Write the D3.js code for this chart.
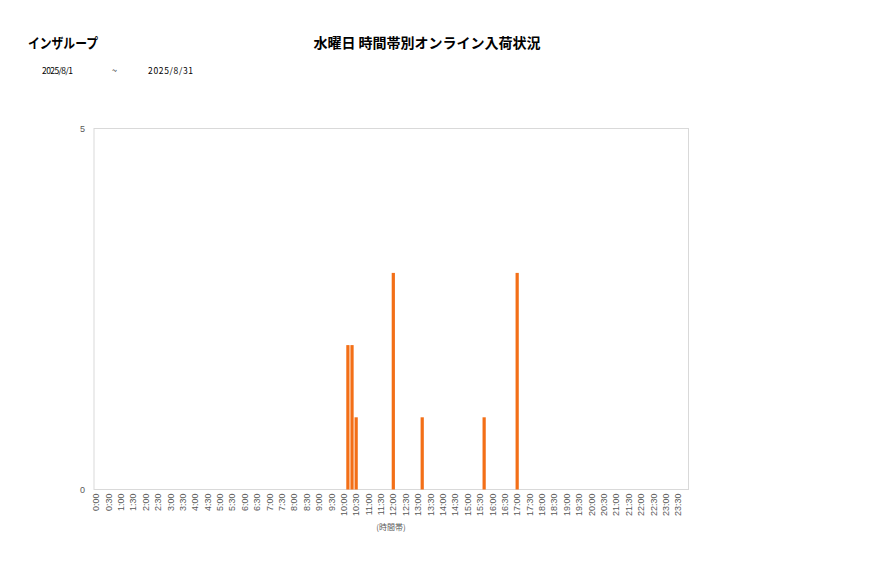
<!DOCTYPE html>
<html>
<head>
<meta charset="utf-8">
<script src="https://cdn.jsdelivr.net/npm/d3@7"></script>
<style>
  body { margin: 0; background: #fff; }
  svg { display: block; font-family: "Noto Sans CJK JP", "Noto Sans", sans-serif; }
  .tick-label { font-size: 9px; fill: #595959; }
</style>
</head>
<body>
<svg id="chart" width="877" height="578"></svg>
<script>
// 10-minute slots for the whole day, labels every 30 minutes
const slots = [];
for (let h = 0; h < 24; h++) {
    for (let m = 0; m < 60; m += 10) slots.push(h + ":" + String(m).padStart(2, "0"));
}
const arrivalSlots = ["10:10", "10:20", "10:30", "12:00", "13:10", "15:40", "17:00"];
const arrivalCounts = [2, 2, 1, 3, 1, 1, 3];
const yTicks = [0, 5];

const shopName = "インザループ";
const chartTitle = "水曜日 時間帯別オンライン入荷状況";
const dateFrom = "2025/8/1";
const dateTo = "2025/8/31";
const xTitle = "(時間帯)";

const values = slots.map(s => {
    const i = arrivalSlots.indexOf(s);
    return i < 0 ? 0 : arrivalCounts[i];
});

const svg = d3.select("#chart");
const plot = { left: 94, top: 128.5, right: 688.5, bottom: 489.5 };

const x = d3.scaleBand()
    .domain(slots)
    .range([plot.left, plot.right])
    .paddingInner(0.22)
    .paddingOuter(0.11);

const y = d3.scaleLinear()
    .domain([0, 5])
    .range([plot.bottom, plot.top]);

// Header texts
svg.append("text")
    .attr("x", 28).attr("y", 48)
    .attr("textLength", 70).attr("lengthAdjust", "spacingAndGlyphs")
    .style("font-size", "14px").style("font-weight", "700")
    .text(shopName);

svg.append("text")
    .attr("x", 427).attr("y", 48)
    .attr("text-anchor", "middle")
    .style("font-size", "14px").style("font-weight", "700")
    .text(chartTitle);

svg.append("text").attr("x", 42).attr("y", 74).style("font-size", "8.5px")
    .attr("textLength", 31).text(dateFrom);
svg.append("text").attr("x", 112).attr("y", 74).style("font-size", "9px").text("~");
svg.append("text").attr("x", 148).attr("y", 74).style("font-size", "8.5px")
    .attr("textLength", 45).text(dateTo);

// Plot frame
svg.append("rect")
    .attr("x", plot.left).attr("y", plot.top)
    .attr("width", plot.right - plot.left)
    .attr("height", plot.bottom - plot.top)
    .attr("fill", "none")
    .attr("stroke", "#d9d9d9");

// Bars
svg.append("g")
    .selectAll("rect")
    .data(slots.map((s, i) => ({ slot: s, value: values[i] })).filter(d => d.value > 0))
    .enter()
    .append("rect")
    .attr("x", d => x(d.slot))
    .attr("y", d => y(d.value))
    .attr("width", x.bandwidth())
    .attr("height", d => y(0) - y(d.value))
    .attr("fill", "#f36f17");

// Y axis labels
const yAxis = svg.append("g")
    .attr("transform", `translate(${plot.left},0)`)
    .call(d3.axisLeft(y).tickValues(yTicks).tickSize(0).tickPadding(9).tickFormat(d3.format("d")));
yAxis.select(".domain").remove();
yAxis.selectAll("text").attr("class", "tick-label").style("font-family", null);

// X axis labels, rotated
const xAxis = svg.append("g")
    .attr("transform", `translate(0,${plot.bottom})`)
    .call(d3.axisBottom(x)
        .tickValues(slots.filter((s, i) => i % 3 === 0))
        .tickSize(0));
xAxis.select(".domain").remove();
xAxis.selectAll("text")
    .attr("class", "tick-label")
    .style("font-family", null)
    .attr("transform", "rotate(-90)")
    .attr("x", -4)
    .attr("y", 0)
    .attr("dy", "0.35em")
    .style("text-anchor", "end");

svg.append("text")
    .attr("x", 391).attr("y", 530)
    .attr("text-anchor", "middle")
    .attr("class", "tick-label")
    .style("font-size", "8px")
    .text(xTitle);
</script>
</body>
</html>
